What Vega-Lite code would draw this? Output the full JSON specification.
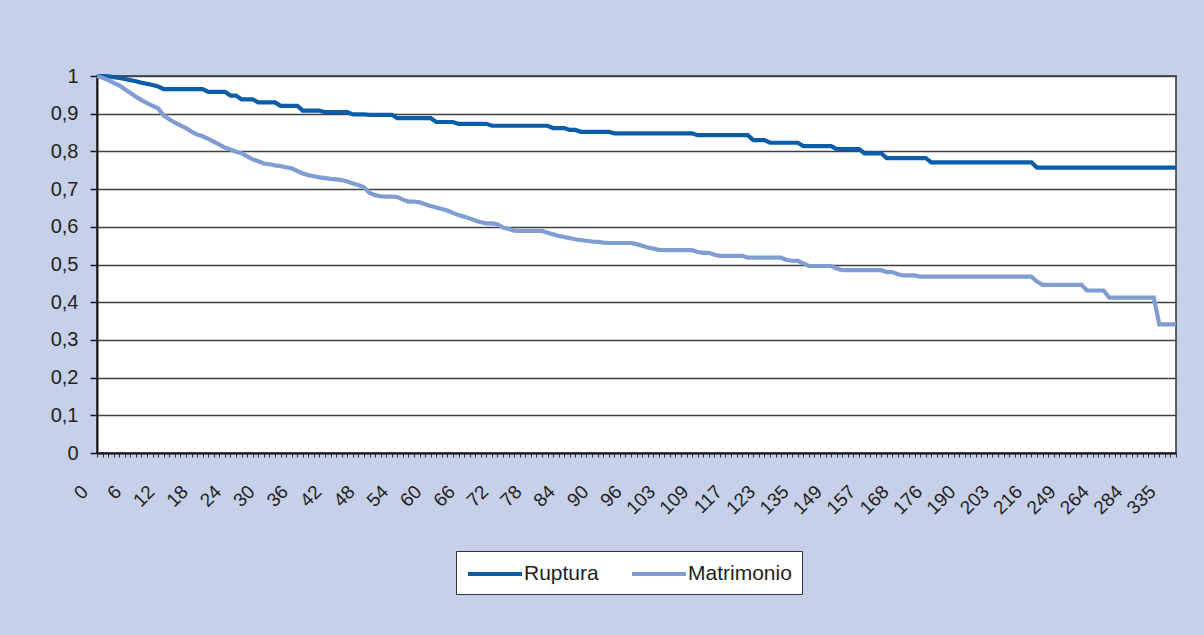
{
  "$schema": "https://vega.github.io/schema/vega-lite/v6.json",
  "width": 1079,
  "height": 377,
  "autosize": {"type": "none"},
  "padding": {"left": 97, "top": 76, "right": 28, "bottom": 182},
  "background": "#C6D0E8",
  "config": {
    "font": "Liberation Sans",
    "view": {"fill": "white", "stroke": "#333333", "strokeWidth": 1.5}
  },
  "data": {"values": [
    {"t":0,"Ruptura":1,"Matrimonio":1},
    {"t":1,"Ruptura":1,"Matrimonio":0.995},
    {"t":2,"Ruptura":0.999,"Matrimonio":0.989},
    {"t":3,"Ruptura":0.997,"Matrimonio":0.982},
    {"t":4,"Ruptura":0.995,"Matrimonio":0.975},
    {"t":5,"Ruptura":0.992,"Matrimonio":0.965},
    {"t":6,"Ruptura":0.989,"Matrimonio":0.955},
    {"t":7,"Ruptura":0.986,"Matrimonio":0.945},
    {"t":8,"Ruptura":0.982,"Matrimonio":0.936},
    {"t":9,"Ruptura":0.979,"Matrimonio":0.928},
    {"t":10,"Ruptura":0.976,"Matrimonio":0.921},
    {"t":11,"Ruptura":0.972,"Matrimonio":0.914},
    {"t":12,"Ruptura":0.965,"Matrimonio":0.895},
    {"t":13,"Ruptura":0.965,"Matrimonio":0.885},
    {"t":14,"Ruptura":0.965,"Matrimonio":0.876},
    {"t":15,"Ruptura":0.965,"Matrimonio":0.869},
    {"t":16,"Ruptura":0.965,"Matrimonio":0.862},
    {"t":17,"Ruptura":0.965,"Matrimonio":0.852},
    {"t":18,"Ruptura":0.965,"Matrimonio":0.845},
    {"t":19,"Ruptura":0.965,"Matrimonio":0.84},
    {"t":20,"Ruptura":0.958,"Matrimonio":0.833},
    {"t":21,"Ruptura":0.958,"Matrimonio":0.826},
    {"t":22,"Ruptura":0.958,"Matrimonio":0.818},
    {"t":23,"Ruptura":0.958,"Matrimonio":0.81},
    {"t":24,"Ruptura":0.948,"Matrimonio":0.805},
    {"t":25,"Ruptura":0.948,"Matrimonio":0.799},
    {"t":26,"Ruptura":0.938,"Matrimonio":0.795},
    {"t":27,"Ruptura":0.938,"Matrimonio":0.787},
    {"t":28,"Ruptura":0.938,"Matrimonio":0.779},
    {"t":29,"Ruptura":0.93,"Matrimonio":0.774},
    {"t":30,"Ruptura":0.93,"Matrimonio":0.768},
    {"t":31,"Ruptura":0.93,"Matrimonio":0.766},
    {"t":32,"Ruptura":0.93,"Matrimonio":0.763},
    {"t":33,"Ruptura":0.921,"Matrimonio":0.761},
    {"t":34,"Ruptura":0.921,"Matrimonio":0.758},
    {"t":35,"Ruptura":0.921,"Matrimonio":0.755},
    {"t":36,"Ruptura":0.921,"Matrimonio":0.748},
    {"t":37,"Ruptura":0.908,"Matrimonio":0.741},
    {"t":38,"Ruptura":0.908,"Matrimonio":0.737},
    {"t":39,"Ruptura":0.908,"Matrimonio":0.734},
    {"t":40,"Ruptura":0.908,"Matrimonio":0.731},
    {"t":41,"Ruptura":0.904,"Matrimonio":0.729},
    {"t":42,"Ruptura":0.904,"Matrimonio":0.727},
    {"t":43,"Ruptura":0.904,"Matrimonio":0.726},
    {"t":44,"Ruptura":0.904,"Matrimonio":0.724},
    {"t":45,"Ruptura":0.904,"Matrimonio":0.72},
    {"t":46,"Ruptura":0.898,"Matrimonio":0.715},
    {"t":47,"Ruptura":0.898,"Matrimonio":0.711},
    {"t":48,"Ruptura":0.898,"Matrimonio":0.705},
    {"t":49,"Ruptura":0.897,"Matrimonio":0.69},
    {"t":50,"Ruptura":0.897,"Matrimonio":0.684},
    {"t":51,"Ruptura":0.897,"Matrimonio":0.681},
    {"t":52,"Ruptura":0.897,"Matrimonio":0.68},
    {"t":53,"Ruptura":0.897,"Matrimonio":0.68},
    {"t":54,"Ruptura":0.888,"Matrimonio":0.679},
    {"t":55,"Ruptura":0.888,"Matrimonio":0.672},
    {"t":56,"Ruptura":0.888,"Matrimonio":0.667},
    {"t":57,"Ruptura":0.888,"Matrimonio":0.667},
    {"t":58,"Ruptura":0.888,"Matrimonio":0.665},
    {"t":59,"Ruptura":0.888,"Matrimonio":0.66},
    {"t":60,"Ruptura":0.888,"Matrimonio":0.655},
    {"t":61,"Ruptura":0.878,"Matrimonio":0.651},
    {"t":62,"Ruptura":0.878,"Matrimonio":0.647},
    {"t":63,"Ruptura":0.878,"Matrimonio":0.643},
    {"t":64,"Ruptura":0.878,"Matrimonio":0.637},
    {"t":65,"Ruptura":0.873,"Matrimonio":0.631},
    {"t":66,"Ruptura":0.873,"Matrimonio":0.627},
    {"t":67,"Ruptura":0.873,"Matrimonio":0.622},
    {"t":68,"Ruptura":0.873,"Matrimonio":0.617},
    {"t":69,"Ruptura":0.873,"Matrimonio":0.612},
    {"t":70,"Ruptura":0.873,"Matrimonio":0.609},
    {"t":71,"Ruptura":0.868,"Matrimonio":0.609},
    {"t":72,"Ruptura":0.868,"Matrimonio":0.607},
    {"t":73,"Ruptura":0.868,"Matrimonio":0.598},
    {"t":74,"Ruptura":0.868,"Matrimonio":0.594},
    {"t":75,"Ruptura":0.868,"Matrimonio":0.59},
    {"t":76,"Ruptura":0.868,"Matrimonio":0.589},
    {"t":77,"Ruptura":0.868,"Matrimonio":0.589},
    {"t":78,"Ruptura":0.868,"Matrimonio":0.589},
    {"t":79,"Ruptura":0.868,"Matrimonio":0.589},
    {"t":80,"Ruptura":0.868,"Matrimonio":0.589},
    {"t":81,"Ruptura":0.868,"Matrimonio":0.584},
    {"t":82,"Ruptura":0.862,"Matrimonio":0.58},
    {"t":83,"Ruptura":0.862,"Matrimonio":0.576},
    {"t":84,"Ruptura":0.862,"Matrimonio":0.573},
    {"t":85,"Ruptura":0.857,"Matrimonio":0.57},
    {"t":86,"Ruptura":0.857,"Matrimonio":0.567},
    {"t":87,"Ruptura":0.852,"Matrimonio":0.565},
    {"t":88,"Ruptura":0.852,"Matrimonio":0.563},
    {"t":89,"Ruptura":0.852,"Matrimonio":0.561},
    {"t":90,"Ruptura":0.852,"Matrimonio":0.56},
    {"t":91,"Ruptura":0.852,"Matrimonio":0.558},
    {"t":92,"Ruptura":0.852,"Matrimonio":0.557},
    {"t":93,"Ruptura":0.848,"Matrimonio":0.557},
    {"t":94,"Ruptura":0.848,"Matrimonio":0.557},
    {"t":95,"Ruptura":0.848,"Matrimonio":0.557},
    {"t":96,"Ruptura":0.848,"Matrimonio":0.557},
    {"t":97,"Ruptura":0.848,"Matrimonio":0.554},
    {"t":98,"Ruptura":0.848,"Matrimonio":0.55},
    {"t":99,"Ruptura":0.848,"Matrimonio":0.545},
    {"t":100,"Ruptura":0.848,"Matrimonio":0.542},
    {"t":102,"Ruptura":0.848,"Matrimonio":0.539},
    {"t":103,"Ruptura":0.848,"Matrimonio":0.538},
    {"t":104,"Ruptura":0.848,"Matrimonio":0.538},
    {"t":105,"Ruptura":0.848,"Matrimonio":0.538},
    {"t":106,"Ruptura":0.848,"Matrimonio":0.538},
    {"t":107,"Ruptura":0.848,"Matrimonio":0.538},
    {"t":108,"Ruptura":0.848,"Matrimonio":0.538},
    {"t":109,"Ruptura":0.843,"Matrimonio":0.533},
    {"t":110,"Ruptura":0.843,"Matrimonio":0.531},
    {"t":111,"Ruptura":0.843,"Matrimonio":0.531},
    {"t":112,"Ruptura":0.843,"Matrimonio":0.526},
    {"t":113,"Ruptura":0.843,"Matrimonio":0.523},
    {"t":115,"Ruptura":0.843,"Matrimonio":0.523},
    {"t":117,"Ruptura":0.843,"Matrimonio":0.523},
    {"t":118,"Ruptura":0.843,"Matrimonio":0.523},
    {"t":119,"Ruptura":0.843,"Matrimonio":0.523},
    {"t":120,"Ruptura":0.843,"Matrimonio":0.518},
    {"t":121,"Ruptura":0.83,"Matrimonio":0.518},
    {"t":122,"Ruptura":0.83,"Matrimonio":0.518},
    {"t":123,"Ruptura":0.83,"Matrimonio":0.518},
    {"t":124,"Ruptura":0.823,"Matrimonio":0.518},
    {"t":126,"Ruptura":0.823,"Matrimonio":0.518},
    {"t":128,"Ruptura":0.823,"Matrimonio":0.518},
    {"t":130,"Ruptura":0.823,"Matrimonio":0.512},
    {"t":132,"Ruptura":0.823,"Matrimonio":0.51},
    {"t":135,"Ruptura":0.823,"Matrimonio":0.51},
    {"t":137,"Ruptura":0.814,"Matrimonio":0.503},
    {"t":139,"Ruptura":0.814,"Matrimonio":0.496},
    {"t":141,"Ruptura":0.814,"Matrimonio":0.496},
    {"t":144,"Ruptura":0.814,"Matrimonio":0.496},
    {"t":146,"Ruptura":0.814,"Matrimonio":0.496},
    {"t":149,"Ruptura":0.814,"Matrimonio":0.496},
    {"t":150,"Ruptura":0.806,"Matrimonio":0.489},
    {"t":151,"Ruptura":0.806,"Matrimonio":0.485},
    {"t":153,"Ruptura":0.806,"Matrimonio":0.485},
    {"t":154,"Ruptura":0.806,"Matrimonio":0.485},
    {"t":156,"Ruptura":0.806,"Matrimonio":0.485},
    {"t":157,"Ruptura":0.795,"Matrimonio":0.485},
    {"t":159,"Ruptura":0.795,"Matrimonio":0.485},
    {"t":161,"Ruptura":0.795,"Matrimonio":0.485},
    {"t":163,"Ruptura":0.795,"Matrimonio":0.485},
    {"t":164,"Ruptura":0.782,"Matrimonio":0.48},
    {"t":166,"Ruptura":0.782,"Matrimonio":0.48},
    {"t":168,"Ruptura":0.782,"Matrimonio":0.474},
    {"t":169,"Ruptura":0.782,"Matrimonio":0.471},
    {"t":170,"Ruptura":0.782,"Matrimonio":0.471},
    {"t":172,"Ruptura":0.782,"Matrimonio":0.471},
    {"t":173,"Ruptura":0.782,"Matrimonio":0.468},
    {"t":175,"Ruptura":0.782,"Matrimonio":0.468},
    {"t":176,"Ruptura":0.771,"Matrimonio":0.468},
    {"t":178,"Ruptura":0.771,"Matrimonio":0.468},
    {"t":180,"Ruptura":0.771,"Matrimonio":0.468},
    {"t":183,"Ruptura":0.771,"Matrimonio":0.468},
    {"t":185,"Ruptura":0.771,"Matrimonio":0.468},
    {"t":187,"Ruptura":0.771,"Matrimonio":0.468},
    {"t":190,"Ruptura":0.771,"Matrimonio":0.468},
    {"t":192,"Ruptura":0.771,"Matrimonio":0.468},
    {"t":194,"Ruptura":0.771,"Matrimonio":0.468},
    {"t":197,"Ruptura":0.771,"Matrimonio":0.468},
    {"t":199,"Ruptura":0.771,"Matrimonio":0.468},
    {"t":201,"Ruptura":0.771,"Matrimonio":0.468},
    {"t":203,"Ruptura":0.771,"Matrimonio":0.468},
    {"t":205,"Ruptura":0.771,"Matrimonio":0.468},
    {"t":207,"Ruptura":0.771,"Matrimonio":0.468},
    {"t":209,"Ruptura":0.771,"Matrimonio":0.468},
    {"t":211,"Ruptura":0.771,"Matrimonio":0.468},
    {"t":213,"Ruptura":0.771,"Matrimonio":0.468},
    {"t":216,"Ruptura":0.771,"Matrimonio":0.468},
    {"t":221,"Ruptura":0.757,"Matrimonio":0.455},
    {"t":227,"Ruptura":0.757,"Matrimonio":0.446},
    {"t":233,"Ruptura":0.757,"Matrimonio":0.446},
    {"t":238,"Ruptura":0.757,"Matrimonio":0.446},
    {"t":244,"Ruptura":0.757,"Matrimonio":0.446},
    {"t":249,"Ruptura":0.757,"Matrimonio":0.446},
    {"t":251,"Ruptura":0.757,"Matrimonio":0.446},
    {"t":253,"Ruptura":0.757,"Matrimonio":0.446},
    {"t":256,"Ruptura":0.757,"Matrimonio":0.446},
    {"t":259,"Ruptura":0.757,"Matrimonio":0.431},
    {"t":261,"Ruptura":0.757,"Matrimonio":0.431},
    {"t":264,"Ruptura":0.757,"Matrimonio":0.431},
    {"t":267,"Ruptura":0.757,"Matrimonio":0.431},
    {"t":270,"Ruptura":0.757,"Matrimonio":0.412},
    {"t":274,"Ruptura":0.757,"Matrimonio":0.412},
    {"t":277,"Ruptura":0.757,"Matrimonio":0.412},
    {"t":280,"Ruptura":0.757,"Matrimonio":0.412},
    {"t":284,"Ruptura":0.757,"Matrimonio":0.412},
    {"t":290,"Ruptura":0.757,"Matrimonio":0.412},
    {"t":298,"Ruptura":0.757,"Matrimonio":0.412},
    {"t":307,"Ruptura":0.757,"Matrimonio":0.412},
    {"t":316,"Ruptura":0.757,"Matrimonio":0.412},
    {"t":325,"Ruptura":0.757,"Matrimonio":0.341},
    {"t":335,"Ruptura":0.757,"Matrimonio":0.341},
    {"t":350,"Ruptura":0.757,"Matrimonio":0.341},
    {"t":372,"Ruptura":0.757,"Matrimonio":0.341}
  ]},
  "transform": [{"fold": ["Ruptura", "Matrimonio"], "as": ["serie", "valor"]}],
  "mark": {"type": "line", "strokeWidth": 4.2},
  "encoding": {
    "x": {
      "field": "t",
      "type": "ordinal",
      "sort": "ascending",
      "scale": {"type": "point", "padding": 0},
      "axis": {
        "title": null,
        "grid": false,
        "domainColor": "#1a1a1a",
        "domainWidth": 2,
        "tickColor": "#333333",
        "tickSize": 4,
        "tickWidth": 1,
        "labelAngle": -45,
        "labelAlign": "right",
        "labelBaseline": "top",
        "labelPadding": 25,
        "labelOffset": -19,
        "labelFontSize": 19,
        "labelColor": "#231F20",
        "labelOverlap": false,
        "labelExpr": "indexof([0,6,12,18,24,30,36,42,48,54,60,66,72,78,84,90,96,103,109,117,123,135,149,157,168,176,190,203,216,249,264,284,335], datum.value) >= 0 ? datum.label : ''"
      }
    },
    "y": {
      "field": "valor",
      "type": "quantitative",
      "scale": {"domain": [0, 1]},
      "axis": {
        "title": null,
        "values": [0, 0.1, 0.2, 0.3, 0.4, 0.5, 0.6, 0.7, 0.8, 0.9, 1],
        "grid": true,
        "gridColor": "#404040",
        "gridWidth": 1.5,
        "domainColor": "#1a1a1a",
        "domainWidth": 2,
        "tickColor": "#1a1a1a",
        "tickSize": 7,
        "tickWidth": 1.5,
        "labelPadding": 12,
        "labelFontSize": 20,
        "labelColor": "#231F20",
        "labelExpr": "replace(format(datum.value, '.1~f'), '.', ',')"
      }
    },
    "color": {
      "field": "serie",
      "type": "nominal",
      "scale": {"domain": ["Ruptura", "Matrimonio"], "range": ["#0B5DAA", "#7F9CD3"]},
      "legend": {
        "title": null,
        "orient": "none",
        "legendX": 359,
        "legendY": 475,
        "direction": "horizontal",
        "symbolType": "M-2.5,0H2.5",
        "symbolSize": 467,
        "symbolOffset": 16,
        "symbolStrokeWidth": 4,
        "labelFontSize": 21,
        "labelColor": "#231F20",
        "labelOffset": 16,
        "columnPadding": 24,
        "fillColor": "white",
        "strokeColor": "#333333",
        "padding": 10
      }
    }
  }
}
